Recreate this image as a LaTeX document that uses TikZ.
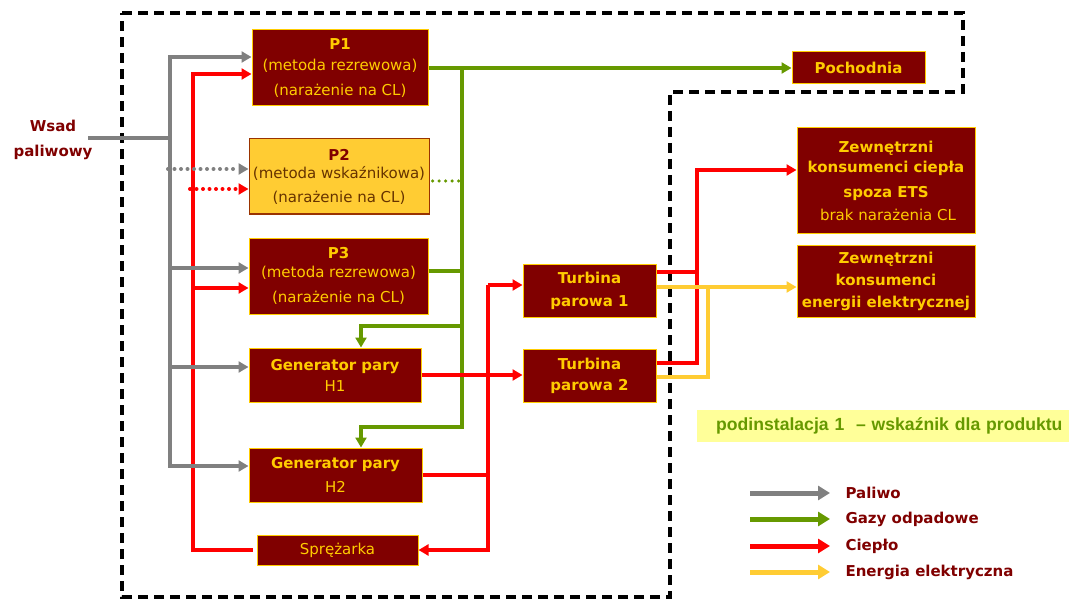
\documentclass[tikz,border=0pt]{standalone}
\usepackage{fontspec}
\setmainfont{DejaVu Sans}
\newfontfamily\arialfont{Liberation Sans}
\usetikzlibrary{arrows.meta}

\definecolor{boxred}{HTML}{800000}
\definecolor{boxgold}{HTML}{FFCC00}
\definecolor{fuelgray}{HTML}{808080}
\definecolor{gasgreen}{HTML}{669900}
\definecolor{heatred}{HTML}{FF0000}
\definecolor{elecyellow}{HTML}{FFCC33}
\definecolor{paleyellow}{HTML}{FFFF99}
\definecolor{altfill}{HTML}{FFCC33}
\definecolor{altborder}{HTML}{993300}
\definecolor{alttext}{HTML}{663300}

\tikzset{
  txt/.style={font=\fontsize{15}{20}\selectfont},
  unit/.style={txt, draw=boxgold, line width=1pt, fill=boxred, text=boxgold,
    align=center, inner sep=0pt},
  altunit/.style={txt, draw=altborder, line width=1pt, fill=altfill, text=alttext,
    align=center, inner sep=0pt},
  flow/.style={line width=4pt},
  tip/.style={-{Triangle[length=10pt,width=11pt]}},
  fuel/.style={flow, draw=fuelgray},
  gas/.style={flow, line width=3.5pt, draw=gasgreen},
  heat/.style={flow, draw=heatred},
  elec/.style={flow, draw=elecyellow},
  dotted flow/.style={line cap=round, dash pattern=on 0pt off 6.5pt},
  boundary/.style={line width=3.5pt, dash pattern=on 10pt off 6pt, draw=black},
  legendarrow/.style={line width=5pt, -{Triangle[length=12pt,width=14pt]}},
  legendtext/.style={txt, font=\fontsize{15}{20}\selectfont\bfseries, text=boxred, anchor=west},
}

\begin{document}
\begin{tikzpicture}[x=1pt,y=-1pt]
\useasboundingbox (0,0) rectangle (1069,599);

% installation boundary
\draw[boundary] (122,13) -- (963,13) -- (963,92) -- (670,92) -- (670,597) -- (122,597) -- cycle;

% process units
\node[unit, minimum width=176pt, minimum height=76pt] (P1) at (340,68)
  {\textbf{P1}\\[1pt](metoda rezrewowa)\\[5pt](narażenie na CL)};
\node[altunit, minimum width=180pt, minimum height=75pt] (P2) at (339,176.5)
  {\textcolor{boxred}{\textbf{P2}}\\[-2pt](metoda wskaźnikowa)\\[4pt](narażenie na CL)};
\node[unit, minimum width=179pt, minimum height=76pt] (P3) at (338.5,276)
  {\textbf{P3}\\[-1pt](metoda rezrewowa)\\[5pt](narażenie na CL)};
\node[unit, minimum width=172pt, minimum height=54pt] (H1) at (335,375)
  {\textbf{Generator pary}\\[1pt]H1};
\node[unit, minimum width=173pt, minimum height=54pt] (H2) at (335.5,475)
  {\textbf{Generator pary}\\[4pt]H2};
\node[unit, minimum width=161pt, minimum height=30pt] (Spr) at (337.5,550)
  {Sprężarka};
\node[unit, minimum width=133pt, minimum height=53pt] (T1) at (589.5,290.5)
  {\textbf{Turbina}\\[3pt]\textbf{parowa 1}};
\node[unit, minimum width=133pt, minimum height=53pt] (T2) at (589.5,375.5)
  {\textbf{Turbina}\\[1pt]\textbf{parowa 2}};
\node[unit, minimum width=133pt, minimum height=32pt] (Poch) at (858.5,68)
  {\textbf{Pochodnia}};
\node[unit, minimum width=178pt, minimum height=105pt] (ZC) at (886,180.5)
  {\textbf{Zewnętrzni}\\\textbf{konsumenci ciepła}\\[5pt]\textbf{spoza ETS}\\[3pt]\hspace*{4pt}brak narażenia CL};
\node[unit, minimum width=178pt, minimum height=72pt] (ZE) at (886,281)
  {\textbf{Zewnętrzni}\\[2pt]\textbf{konsumenci}\\[2pt]\textbf{energii elektrycznej}};

% fuel input label
\node[txt, font=\fontsize{15}{20}\selectfont\bfseries, text=boxred, align=center] (wsad) at (53,140)
  {Wsad\\[5pt]paliwowy};

% junction points of the distribution lines
\coordinate (fuelin) at (88,138);
\coordinate (fuelbus) at (170,138);
\coordinate (hb) at (193,550);
\coordinate (gb1) at (462,326);
\coordinate (gb2) at (462,427);
\coordinate (hb2) at (488,550);
\coordinate (hb3) at (697,170);
\coordinate (eb) at (708,287);

% entry and exit points on the units
\coordinate (p1f) at ([yshift=11pt]P1.west);
\coordinate (p1h) at ([yshift=-6pt]P1.west);
\coordinate (p2f) at ([yshift=7.5pt]P2.west);
\coordinate (p2h) at ([yshift=-12.5pt]P2.west);
\coordinate (p2g) at ([yshift=-4.5pt]P2.east);
\coordinate (p3f) at ([yshift=8pt]P3.west);
\coordinate (p3h) at ([yshift=-12pt]P3.west);
\coordinate (p3g) at ([yshift=5pt]P3.east);
\coordinate (h1f) at ([yshift=8pt]H1.west);
\coordinate (h2f) at ([yshift=9pt]H2.west);
\coordinate (t1h) at ([yshift=5.5pt]T1.west);
\coordinate (t1o) at ([yshift=18.5pt]T1.east);
\coordinate (t1e) at ([yshift=3.5pt]T1.east);
\coordinate (t2o) at ([yshift=12.5pt]T2.east);
\coordinate (t2e) at ([yshift=-1.5pt]T2.east);
\coordinate (zch) at ([yshift=10.5pt]ZC.west);

% heat (red)
\draw[heat, tip] ([xshift=-4pt]Spr.west) -| (hb |- p1h) -- (p1h);
\draw[heat, tip] (hb |- p3h) -- (p3h);
\draw[heat, dotted flow, tip] ([xshift=-3pt]hb |- p2h) -- (p2h);
\draw[heat, tip] (hb2 |- t1h) |- (Spr.east);
\draw[heat, tip] (hb2 |- t1h) -- (t1h);
\draw[heat] (H2.east) -- (H2.east -| hb2);

% fuel (gray)
\draw[fuel] (fuelin) -- (fuelbus);
\draw[fuel, tip] (fuelbus) |- (p1f);
\draw[fuel, tip] (fuelbus) |- (h2f);
\draw[fuel, tip] (fuelbus |- p3f) -- (p3f);
\draw[fuel, tip] (fuelbus |- h1f) -- (h1f);
\draw[fuel, dotted flow, tip] ([xshift=-2pt]fuelbus |- p2f) -- (p2f);

% waste gases (green)
\draw[gas, tip] (P1.east) -- (Poch.west);
\draw[gas, tip] (P1.east -| gb2) -- (gb2) -| ([xshift=25.5pt]H2.north);
\draw[gas, tip] (gb1) -| ([xshift=26pt]H1.north);
\draw[gas] (p3g) -- (p3g -| gb1);
\draw[gas, dotted flow] ([xshift=3pt]p2g) -- (p2g -| gb1);

% steam heat between generators and turbines
\draw[heat, tip] (H1.east) -- (T2.west |- H1.east);

% heat to external consumers
\draw[heat] (t1o) -- (t1o -| hb3);
\draw[heat, tip] (t2o) -| (hb3) -- (zch);

% electricity (yellow)
\draw[elec, tip] (t1e) -- (t1e -| ZE.west);
\draw[elec] (t2e) -| (eb);

% sub-installation label
\node[fill=paleyellow, anchor=west, minimum height=32pt, text width=372pt, inner xsep=0pt,
  inner ysep=0pt, align=left, text=gasgreen, font=\arialfont\bfseries\fontsize{17.6}{20}\selectfont]
  (sub) at (697,426) {\hspace*{19pt}podinstalacja 1\ \ – wskaźnik dla produktu};

% legend
\coordinate (lg1a) at (750,493); \coordinate (lg1b) at (830,493);
\coordinate (lg2a) at (750,519); \coordinate (lg2b) at (830,519);
\coordinate (lg3a) at (750,546); \coordinate (lg3b) at (830,546);
\coordinate (lg4a) at (750,572); \coordinate (lg4b) at (830,572);
\draw[legendarrow, draw=fuelgray, fill=fuelgray] (lg1a) -- (lg1b);
\draw[legendarrow, draw=gasgreen, fill=gasgreen] (lg2a) -- (lg2b);
\draw[legendarrow, draw=heatred, fill=heatred] (lg3a) -- (lg3b);
\draw[legendarrow, draw=elecyellow, fill=elecyellow] (lg4a) -- (lg4b);
\node[legendtext] (lt1) at (842,493) {Paliwo};
\node[legendtext] (lt2) at (842,519) {Gazy odpadowe};
\node[legendtext] (lt3) at (842,546) {Ciepło};
\node[legendtext] (lt4) at (842,572) {Energia elektryczna};
\end{tikzpicture}
\end{document}
